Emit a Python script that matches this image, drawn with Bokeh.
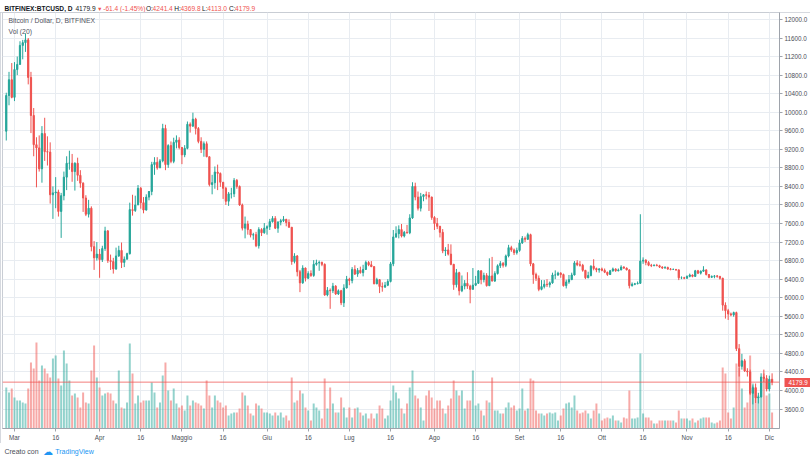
import pandas as pd
from bokeh.plotting import figure
from bokeh.layouts import column
from bokeh.models import (ColumnDataSource, Range1d, FixedTicker, Label, Span,
                          LinearAxis, PrintfTickFormatter)
from bokeh.core.properties import value
from bokeh.embed import file_html
from bokeh.resources import INLINE

# ---------------- data (BITFINEX:BTCUSD, daily, 2018-02-26 .. 2018-12-02) ----------------
first_day = "2018-02-26"
axis_origin = "2018-03-01"

opens = [
    9590, 10360, 10700,
    # Mar
    10320, 10920, 11030, 11440, 11500, 11560, 10750, 9930, 9300, 9230, 8780, 9540, 9150, 9140, 8220, 8260,
    8280, 7860, 8200, 8600, 8900, 8900, 8720, 8900, 8640, 8470, 8150, 7800, 7930, 7100, 6860,
    # Apr
    6940, 6820, 7060, 7440, 6800, 6780, 6620, 6900, 7020, 6760, 6830, 6950, 7900, 7880, 8000, 8360,
    8050, 7890, 8170, 8290, 8870, 8920, 8800, 8950, 9650, 8870, 9280, 8940, 9350, 9400,
    # May
    9240, 9080, 9220, 9740, 9700, 9850, 9650, 9370, 9200, 9320, 9040, 8440, 8480, 8710, 8680, 8490,
    8360, 8080, 8240, 8240, 8530, 8400, 8000, 7500, 7590, 7470, 7350, 7360, 7120, 7470, 7400,
    # Jun
    7500, 7530, 7640, 7710, 7500, 7630, 7660, 7690, 7620, 7520, 6780, 6900, 6560, 6320, 6640, 6420,
    6520, 6480, 6720, 6750, 6760, 6720, 6060, 6160, 6150, 6250, 6080, 6150, 5890, 6210,
    # Jul
    6400, 6370, 6610, 6510, 6590, 6540, 6610, 6760, 6710, 6670, 6300, 6390, 6240, 6230, 6270, 6350,
    6730, 7310, 7380, 7470, 7330, 7410, 7400, 7720, 8400, 8170, 7930, 8180, 8220, 8210, 8170,
    # Aug
    7730, 7600, 7540, 7410, 7010, 7030, 6940, 6720, 6280, 6540, 6150, 6250, 6310, 6250, 6180, 6270,
    6310, 6580, 6390, 6480, 6260, 6470, 6360, 6520, 6690, 6740, 6700, 6900, 7080, 7030, 6970,
    # Sep
    7020, 7180, 7280, 7260, 7360, 6730, 6500, 6420, 6180, 6240, 6290, 6280, 6320, 6490, 6490, 6530,
    6500, 6260, 6340, 6390, 6490, 6750, 6710, 6700, 6590, 6430, 6480, 6680, 6630, 6600,
    # Oct
    6620, 6590, 6550, 6500, 6580, 6620, 6580, 6600, 6660, 6640, 6600, 6260, 6290, 6300, 6310, 6790,
    6810, 6760, 6700, 6690, 6700, 6690, 6660, 6640, 6650, 6620, 6610, 6610, 6600, 6430, 6430,
    # Nov
    6420, 6460, 6490, 6460, 6580, 6530, 6570, 6600, 6500, 6440, 6460, 6470, 6460, 6420, 5840, 5720,
    5650, 5630, 5680, 4900, 4520, 4640, 4420, 4400, 3940, 4060, 3840, 3860, 4290, 4260,
    # Dec
    4030, 4241.4,
]

highs = [
    10420, 10870, 11060,
    11080, 11200, 11530, 11560, 11700, 11600, 10870, 10090, 9460, 9500, 9700, 9880, 9480, 9350, 8400, 8600,
    8330, 8260, 8720, 9050, 9170, 9100, 8920, 9020, 8750, 8490, 8210, 8110, 7970, 7220, 7200,
    7050, 7120, 7530, 7460, 6930, 6860, 7080, 7120, 7190, 6890, 6970, 8050, 8220, 8200, 8430, 8390,
    8170, 8230, 8300, 8930, 9030, 9030, 8990, 9750, 9730, 9310, 9370, 9450, 9500, 9460,
    9250, 9290, 9800, 9780, 9990, 9880, 9680, 9460, 9370, 9370, 9040, 8650, 8830, 8870, 8700, 8490,
    8390, 8280, 8370, 8580, 8560, 8420, 8030, 7750, 7660, 7480, 7400, 7420, 7520, 7500, 7610,
    7560, 7700, 7760, 7760, 7650, 7700, 7760, 7700, 7690, 7520, 6960, 6920, 6600, 6700, 6650, 6570,
    6590, 6810, 6820, 6800, 6780, 6740, 6230, 6200, 6320, 6270, 6180, 6170, 6290, 6470,
    6430, 6660, 6700, 6640, 6670, 6710, 6800, 6790, 6790, 6680, 6430, 6390, 6330, 6340, 6400, 6770,
    7460, 7540, 7560, 7590, 7440, 7570, 7800, 8490, 8480, 8290, 8260, 8230, 8290, 8280, 8180,
    7760, 7720, 7550, 7480, 7090, 7160, 7150, 6730, 6620, 6560, 6480, 6380, 6550, 6280, 6640, 6470,
    6590, 6590, 6540, 6530, 6850, 6880, 6570, 6720, 6790, 6770, 6930, 7140, 7120, 7060, 7080,
    7250, 7330, 7320, 7400, 7380, 6750, 6540, 6480, 6380, 6380, 6400, 6350, 6540, 6590, 6560, 6550,
    6520, 6390, 6490, 6540, 6790, 6810, 6790, 6730, 6600, 6560, 6700, 6830, 6650, 6640,
    6650, 6630, 6560, 6600, 6650, 6630, 6630, 6700, 6680, 6650, 6610, 6330, 6320, 6350, 7800, 6870,
    6830, 6790, 6730, 6720, 6730, 6710, 6680, 6680, 6670, 6640, 6630, 6620, 6610, 6460, 6450,
    6480, 6520, 6500, 6600, 6600, 6590, 6680, 6610, 6510, 6480, 6490, 6490, 6470, 6430, 5900, 5760,
    5680, 5700, 5700, 5000, 4790, 4680, 4480, 4450, 4110, 4150, 3950, 4370, 4450, 4330,
    4320, 4369.8,
]

lows = [
    9390, 10150, 10300,
    10240, 10800, 11030, 11140, 11300, 10600, 9550, 9050, 8380, 8720, 8480, 8950, 8850, 8030, 7700, 7930,
    7750, 7290, 8100, 8320, 8760, 8500, 8310, 8520, 8370, 7850, 7760, 7730, 7000, 6600, 6800,
    6430, 6770, 7010, 6750, 6600, 6520, 6600, 6880, 6640, 6660, 6830, 6930, 7770, 7850, 8000, 7920,
    7820, 7880, 8100, 8210, 8650, 8760, 8810, 8920, 8750, 8800, 8900, 8900, 9220, 9200,
    8880, 9030, 9200, 9560, 9680, 9520, 9330, 9120, 9040, 9030, 8400, 8230, 8350, 8320, 8390, 8130,
    8000, 7980, 8140, 8170, 8350, 7980, 7450, 7280, 7360, 7300, 7250, 7090, 7060, 7330, 7380,
    7360, 7460, 7620, 7480, 7400, 7560, 7630, 7540, 7510, 6710, 6740, 6460, 6120, 6300, 6350, 6400,
    6450, 6450, 6690, 6580, 6680, 6040, 6030, 5760, 6100, 6060, 6060, 5840, 5800, 6200,
    6270, 6310, 6490, 6450, 6520, 6460, 6600, 6680, 6660, 6290, 6290, 6100, 6130, 6210, 6250, 6330,
    6680, 7290, 7280, 7300, 7300, 7380, 7370, 7700, 8100, 7880, 7860, 8080, 8120, 7870, 7680,
    7460, 7480, 7300, 6960, 6900, 6910, 6700, 6170, 6220, 6050, 6120, 6180, 6190, 5880, 6180, 6250,
    6300, 6290, 6330, 6240, 6250, 6350, 6340, 6500, 6640, 6650, 6660, 6870, 6990, 6920, 6930,
    6990, 7160, 7200, 7250, 6680, 6300, 6360, 6140, 6160, 6200, 6230, 6220, 6300, 6400, 6470, 6430,
    6240, 6200, 6300, 6380, 6480, 6680, 6670, 6560, 6400, 6420, 6460, 6590, 6550, 6540,
    6570, 6530, 6470, 6490, 6560, 6560, 6570, 6590, 6620, 6590, 6200, 6240, 6270, 6290, 6300, 6730,
    6700, 6680, 6660, 6680, 6680, 6640, 6620, 6630, 6600, 6590, 6600, 6580, 6380, 6400, 6400,
    6410, 6440, 6440, 6450, 6510, 6500, 6560, 6480, 6420, 6430, 6420, 6430, 6390, 5720, 5550, 5520,
    5600, 5590, 4850, 4300, 4450, 4400, 4300, 3900, 3700, 3730, 3720, 3850, 4180, 3980,
    3980, 4113.0,
]

closes = [
    10360, 10700, 10320,
    10920, 11030, 11440, 11500, 11560, 10750, 9930, 9300, 9230, 8780, 9540, 9150, 9140, 8220, 8260, 8280,
    7860, 8200, 8600, 8900, 8900, 8720, 8900, 8640, 8470, 8150, 7800, 7930, 7100, 6860, 6940,
    6820, 7060, 7440, 6800, 6780, 6620, 6900, 7020, 6760, 6830, 6950, 7900, 7880, 8000, 8360, 8050,
    7890, 8170, 8290, 8870, 8920, 8800, 8950, 9650, 8870, 9280, 8940, 9350, 9400, 9240,
    9080, 9220, 9740, 9700, 9850, 9650, 9370, 9200, 9320, 9040, 8440, 8480, 8710, 8680, 8490, 8360,
    8080, 8240, 8240, 8530, 8400, 8000, 7500, 7590, 7470, 7350, 7360, 7120, 7470, 7400, 7500,
    7530, 7640, 7710, 7500, 7630, 7660, 7690, 7620, 7520, 6780, 6900, 6560, 6320, 6640, 6420, 6520,
    6480, 6720, 6750, 6760, 6720, 6060, 6160, 6150, 6250, 6080, 6150, 5890, 6210, 6400,
    6370, 6610, 6510, 6590, 6540, 6610, 6760, 6710, 6670, 6300, 6390, 6240, 6230, 6270, 6350, 6730,
    7310, 7380, 7470, 7330, 7410, 7400, 7720, 8400, 8170, 7930, 8180, 8220, 8210, 8170, 7730,
    7600, 7540, 7410, 7010, 7030, 6940, 6720, 6280, 6540, 6150, 6250, 6310, 6250, 6180, 6270, 6310,
    6580, 6390, 6480, 6260, 6470, 6360, 6520, 6690, 6740, 6700, 6900, 7080, 7030, 6970, 7020,
    7180, 7280, 7260, 7360, 6730, 6500, 6420, 6180, 6240, 6290, 6280, 6320, 6490, 6490, 6530, 6500,
    6260, 6340, 6390, 6490, 6750, 6710, 6700, 6590, 6430, 6480, 6680, 6630, 6600, 6620,
    6590, 6550, 6500, 6580, 6620, 6580, 6600, 6660, 6640, 6600, 6260, 6290, 6300, 6310, 6790, 6810,
    6760, 6700, 6690, 6700, 6690, 6660, 6640, 6650, 6620, 6610, 6610, 6600, 6430, 6430, 6420,
    6460, 6490, 6460, 6580, 6530, 6570, 6600, 6500, 6440, 6460, 6470, 6460, 6420, 5840, 5720, 5650,
    5630, 5680, 4900, 4520, 4640, 4420, 4400, 3940, 4060, 3840, 3860, 4290, 4260, 4030,
    4241.3, 4179.9,
]

volumes = [
    41, 36, 40, 31, 28, 28, 26, 25, 40, 66, 60, 86, 48, 63, 60, 55, 51, 70, 73, 50,
    43, 78, 65, 48, 33, 35, 31, 21, 36, 26, 25, 58, 83, 51, 41, 33, 35, 36, 35, 28,
    25, 58, 21, 20, 26, 85, 55, 25, 33, 26, 28, 28, 28, 46, 36, 21,
    26, 53, 66, 38, 28, 40, 25, 21, 23, 18, 33, 23, 28, 26, 25, 23,
    20, 48, 33, 21, 33, 28, 26, 21, 23, 13, 15, 16, 16, 20, 36, 33, 23, 15, 13, 25,
    23, 20, 16, 16, 15, 13, 16, 13, 16, 11, 13, 8, 51, 26, 28, 38, 35, 21, 18, 8, 25, 21,
    18, 10, 50, 20, 41, 25, 16,
    16, 31, 21, 11, 21, 11, 20, 21, 16, 13, 15, 10, 15, 10, 15, 23, 20, 10, 13, 28,
    43, 36, 30, 20, 15, 25, 41, 58, 33, 30, 21,
    8, 33, 38, 31, 20, 28, 28, 20, 15, 23, 30, 48,
    38, 33, 38, 20, 28,
    28, 58, 23, 25, 18, 13,
    28, 26, 51, 18, 18, 15, 15, 21, 26, 21, 23, 18, 20, 40, 18, 20, 50,
    48, 18, 15, 15, 13, 15, 16, 15, 16, 8, 13, 20, 25, 26, 21, 33, 18, 15, 16, 18,
    15, 10, 18, 25, 15, 8, 10, 11, 10, 13, 8, 8, 6, 11, 10,
    38, 10, 10, 11,
    75, 15, 11, 11, 8, 5, 5, 8, 8, 8, 8, 8, 8, 6, 18, 10, 10, 10, 8, 10,
    6, 8, 10, 11, 11, 11, 6, 5, 6, 8, 61, 55, 16, 10,
    21, 65, 61, 40, 21, 26, 73, 45, 41, 33, 45, 55, 33, 35, 16,
]

x_tick_days = [0, 15, 31, 46, 61, 76, 92, 107, 122, 137, 153, 168, 184, 199, 214, 229, 245, 260, 275]
x_tick_labels = ["Mar", "16", "Apr", "16", "Maggio", "16", "Giu", "16", "Lug", "16",
                 "Ago", "16", "Set", "16", "Ott", "16", "Nov", "16", "Dic"]
price_ticks = [3600, 4000, 4400, 4800, 5200, 5600, 6000, 6400, 6800, 7200, 7600, 8000,
               8400, 8800, 9200, 9600, 10000, 10400, 10800, 11200, 11600, 12000]
last_price = 4179.9

header_texts = ["BITFINEX:BTCUSD, D", "4179.9", "\u25bc", "-61.4 (-1.45%)",
                "O:", "4241.4", "H:", "4369.8", "L:", "4113.0", "C:", "4179.9"]

# ---------------- build ----------------
dates = pd.date_range(first_day, periods=len(closes), freq="D")
days = [int(d) for d in (dates - pd.Timestamp(axis_origin)).days]

UP, DOWN = "#26a69a", "#ef5350"
DARK, GREY = "#131722", "#4a4e57"
FONT = "Liberation Sans"
colors = [UP if c >= o else DOWN for o, c in zip(opens, closes)]
src = ColumnDataSource(dict(
    x=days, o=opens, h=highs, l=lows, c=closes, v=volumes,
    top=[max(o, c) for o, c in zip(opens, closes)],
    bottom=[min(o, c) for o, c in zip(opens, closes)],
    color=colors,
))


def strip(height):
    f = figure(width=810, height=height, output_backend="svg", toolbar_location=None,
               x_range=Range1d(0, 810), y_range=Range1d(height, 0),
               x_axis_type=None, y_axis_type=None, min_border=0,
               outline_line_color=None, background_fill_color="white",
               border_fill_color="white")
    f.grid.visible = False
    f.title.visible = False
    return f


# ---- header strip ----
hdr = strip(12)
hdr_src = ColumnDataSource(dict(
    x=[2, 76, 98.5, 105, 149.5, 156.5, 179, 185.5, 208, 213.5, 236, 242.5],
    y=[8.3] * 12,
    text=header_texts,
    color=[DARK, DARK, DOWN, DOWN, DARK, DOWN, DARK, DOWN, DARK, DOWN, DARK, DOWN],
    style=["bold"] + ["normal"] * 11,
    size=["6.6px", "6.6px", "5.5px"] + ["6.6px"] * 9,
))
hdr.text(x="x", y="y", text="text", source=hdr_src, text_color="color",
         text_font=value(FONT), text_font_size="size", text_font_style="style",
         text_baseline="alphabetic", text_align="left")

# ---- main chart ----
FW, FH = 777, 416
p = figure(frame_width=FW, frame_height=FH, output_backend="svg", toolbar_location=None,
           x_range=Range1d(-4.37, 278.7), y_range=Range1d(3180, 12150),
           y_axis_location="right",
           min_border_left=2, min_border_right=27, min_border_top=0, min_border_bottom=13,
           background_fill_color="white", border_fill_color="white",
           outline_line_color="#c9cdd4",
           styles={"outline": "1px solid #c9cdd4", "outline-offset": "-1px"})
p.title.visible = False
p.extra_y_ranges = {"vol": Range1d(0, 416)}

p.xgrid.ticker = FixedTicker(ticks=x_tick_days)
p.ygrid.ticker = FixedTicker(ticks=price_ticks)
p.grid.grid_line_color = "#e8ecf1"

p.xaxis.ticker = FixedTicker(ticks=x_tick_days)
p.xaxis.major_label_overrides = {d: t for d, t in zip(x_tick_days, x_tick_labels)}
p.yaxis.ticker = FixedTicker(ticks=price_ticks)
p.yaxis.formatter = PrintfTickFormatter(format="%.1f")
for ax in (p.xaxis, p.yaxis):
    ax.axis_line_color = "#9ea3ab"
    ax.major_tick_line_color = "#9ea3ab"
    ax.major_tick_out = 3
    ax.major_tick_in = 0
    ax.minor_tick_line_color = None
    ax.major_label_text_font = FONT
    ax.major_label_text_font_size = "6.3px"
    ax.major_label_text_color = GREY
    ax.major_label_standoff = 2

# volume
p.vbar(x="x", top="v", bottom=0, width=0.72, source=src, y_range_name="vol",
       fill_color="color", fill_alpha=0.5, line_color=None)

# last price line
p.add_layout(Span(location=last_price, dimension="width", line_color=DOWN,
                  line_alpha=0.75, line_width=1))

# candles
p.segment(x0="x", y0="h", x1="x", y1="l", source=src, line_color="color", line_width=1)
p.vbar(x="x", top="top", bottom="bottom", width=0.45, source=src,
       fill_color="color", line_color="color", line_width=1)

# price tag on the price scale: a second right axis whose single thick tick
# reaches back (inwards) over the price-scale column
tag_axis = LinearAxis(ticker=FixedTicker(ticks=[last_price]),
                      formatter=PrintfTickFormatter(format="%.1f"))
tag_axis.axis_line_color = None
tag_axis.minor_tick_line_color = None
tag_axis.major_tick_line_color = DOWN
tag_axis.major_tick_line_width = 9
tag_axis.major_tick_out = 0
tag_axis.major_tick_in = 26
tag_axis.major_label_standoff = -22
tag_axis.major_label_text_color = "white"
tag_axis.major_label_text_font = FONT
tag_axis.major_label_text_font_size = "6.3px"
p.add_layout(tag_axis, "right")

# in-pane legend
for yy, t in ((FH - 8, "Bitcoin / Dollar, D, BITFINEX"), (FH - 19, "Vol (20)")):
    p.add_layout(Label(x=6, y=yy, x_units="screen", y_units="screen", text=t,
                       text_color="#50535e", text_font=FONT, text_font_size="6.8px",
                       text_baseline="middle"))

# ---- footer strip ----
ftr = strip(18)
ftr_src = ColumnDataSource(dict(
    x=[2, 42, 55], y=[8, 8, 8],
    text=["Creato con", "\u2601", "TradingView"],
    color=[GREY, "#2196f3", "#2196f3"],
    size=["7px", "10px", "7px"],
))
ftr.text(x="x", y="y", text="text", source=ftr_src, text_color="color",
         text_font=value(FONT), text_font_size="size",
         text_baseline="middle", text_align="left")

layout = column(hdr, p, ftr, spacing=0)
open("out.html", "w").write(file_html(layout, INLINE))
